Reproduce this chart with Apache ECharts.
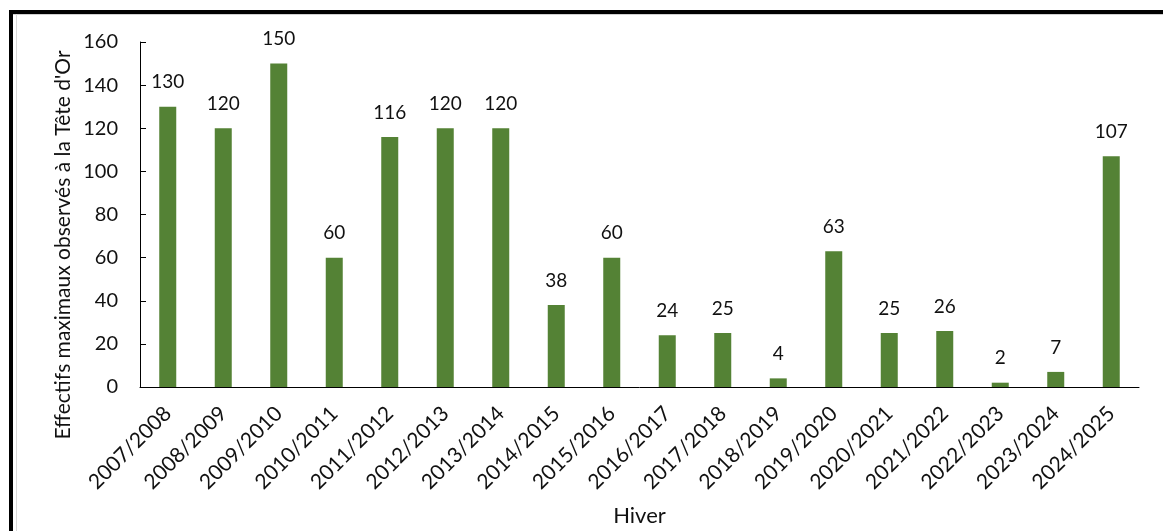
<!DOCTYPE html>
<html lang="fr">

<head>
    <meta charset="UTF-8">
    <title>Effectifs maximaux</title>
    <script src="https://cdn.jsdelivr.net/npm/echarts@6/dist/echarts.min.js"></script>
</head>

<body style="margin:0;background-color:#fff;">
    <div id="main" style="position:absolute;left:0;top:0;width:1163px;height:531px"></div>

    <script>
        var hivers = ['2007/2008', '2008/2009', '2009/2010', '2010/2011', '2011/2012', '2012/2013',
            '2013/2014', '2014/2015', '2015/2016', '2016/2017', '2017/2018', '2018/2019',
            '2019/2020', '2020/2021', '2021/2022', '2022/2023', '2023/2024', '2024/2025'];
        var effectifs = [130, 120, 150, 60, 116, 120, 120, 38, 60, 24, 25, 4, 63, 25, 26, 2, 7, 107];
        var yTicks = [0, 20, 40, 60, 80, 100, 120, 140, 160];

        var font = 'Lato, "Open Sans", sans-serif';
        var ink = '#111';
        var myChart = echarts.init(document.getElementById('main'));

        myChart.setOption({
            animation: false,
            grid: { left: 140, right: 24, top: 42, bottom: 144, containLabel: false, outerBoundsMode: 'none' },
            xAxis: {
                type: 'category',
                data: hivers,
                name: 'Hiver',
                nameLocation: 'middle',
                nameGap: 118,
                nameTextStyle: { color: ink, fontSize: 22, fontFamily: font },
                axisLine: { lineStyle: { color: '#000', width: 1 } },
                axisTick: { show: false },
                axisLabel: {
                    rotate: 45,
                    interval: 0,
                    margin: 23,
                    color: ink,
                    fontSize: 21,
                    fontFamily: font
                }
            },
            yAxis: {
                type: 'value',
                min: yTicks[0],
                max: yTicks[yTicks.length - 1],
                interval: 20,
                splitLine: { show: false },
                axisLine: { show: true, lineStyle: { color: '#000', width: 1 } },
                axisTick: { show: true, inside: true, length: 6, lineStyle: { color: '#000' } },
                axisLabel: { margin: 22, color: ink, fontSize: 20, fontFamily: font }
            },
            series: [{
                type: 'bar',
                data: effectifs,
                barWidth: 17,
                itemStyle: { color: '#548235' },
                label: {
                    show: true,
                    position: 'top',
                    distance: 15,
                    color: ink,
                    fontSize: 19,
                    fontFamily: font
                }
            }],
            graphic: [
                { type: 'rect', shape: { x: 9, y: 10, width: 1154, height: 4 }, style: { fill: '#000' }, silent: true },
                { type: 'rect', shape: { x: 9, y: 10, width: 4, height: 521 }, style: { fill: '#000' }, silent: true },
                { type: 'rect', shape: { x: 13, y: 14, width: 1150, height: 1 }, style: { fill: '#d0d0d0' }, silent: true },
                { type: 'rect', shape: { x: 16, y: 14, width: 1, height: 517 }, style: { fill: '#d9d9d9' }, silent: true },
                {
                    type: 'text',
                    x: 63,
                    y: 245,
                    rotation: Math.PI / 2,
                    style: {
                        text: "Effectifs maximaux observés à la Tête d'Or",
                        fill: ink,
                        font: '21px ' + font,
                        align: 'center',
                        verticalAlign: 'middle'
                    }
                }
            ]
        });
    </script>
</body>

</html>
